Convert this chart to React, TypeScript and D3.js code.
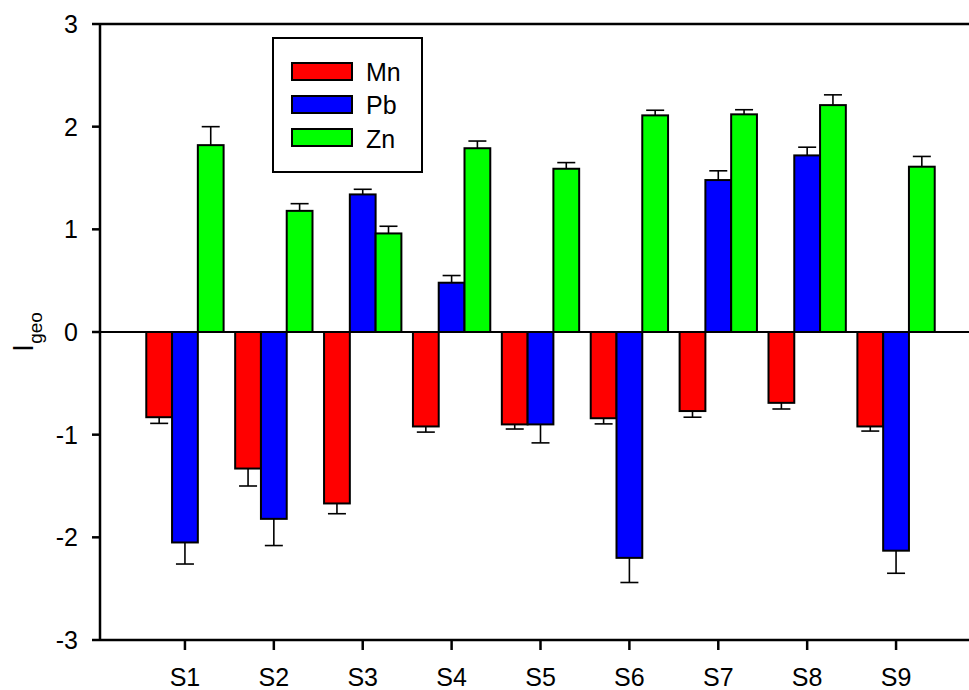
import React from "react";
import * as d3 from "d3";

const sites = ["S1", "S2", "S3", "S4", "S5", "S6", "S7", "S8", "S9"];
const metals = ["Mn", "Pb", "Zn"];
const colors = ["#ff0000", "#0000ff", "#00ff00"];

const mnValues = [-0.83, -1.33, -1.67, -0.92, -0.9, -0.84, -0.77, -0.69, -0.92];
const mnErrors = [0.06, 0.17, 0.1, 0.055, 0.045, 0.055, 0.06, 0.06, 0.045];
const pbValues = [-2.05, -1.82, 1.34, 0.48, -0.9, -2.2, 1.48, 1.72, -2.13];
const pbErrors = [0.21, 0.26, 0.05, 0.07, 0.18, 0.24, 0.09, 0.08, 0.22];
const znValues = [1.82, 1.18, 0.96, 1.79, 1.59, 2.11, 2.12, 2.21, 1.61];
const znErrors = [0.18, 0.07, 0.07, 0.07, 0.06, 0.05, 0.045, 0.1, 0.1];

const yTicks = [-3, -2, -1, 0, 1, 2, 3];

const seriesValues = [mnValues, pbValues, znValues];
const seriesErrors = [mnErrors, pbErrors, znErrors];

const W = 969;
const H = 690;
const left = 100;
const right = 969;
const top = 24;
const bottom = 640;
const font = "'Liberation Sans', Arial, sans-serif";

export default function App() {
  const y = d3.scaleLinear().domain([-3, 3]).range([bottom, top]);
  const x0 = d3
    .scaleBand<string>()
    .domain(sites)
    .range([140.5, 940.5])
    .paddingInner(0.13)
    .paddingOuter(0.065);
  const x1 = d3.scaleBand<string>().domain(metals).range([0, x0.bandwidth()]);

  const bars: JSX.Element[] = [];
  const errs: JSX.Element[] = [];
  sites.forEach((s, i) => {
    metals.forEach((m, j) => {
      const v = seriesValues[j][i];
      const e = seriesErrors[j][i];
      const bx = (x0(s) as number) + (x1(m) as number);
      const bw = x1.bandwidth();
      const y0 = y(0);
      const yv = y(v);
      const ye = y(v + (v >= 0 ? e : -e));
      const cx = bx + bw / 2;
      errs.push(
        <g key={`e${i}${j}`} stroke="#000" strokeWidth={1.6}>
          <line x1={cx} x2={cx} y1={yv} y2={ye} />
          <line x1={cx - 9} x2={cx + 9} y1={ye} y2={ye} />
        </g>
      );
      bars.push(
        <rect
          key={`b${i}${j}`}
          x={bx}
          y={Math.min(y0, yv)}
          width={bw}
          height={Math.abs(yv - y0)}
          fill={colors[j]}
          stroke="#000"
          strokeWidth={2}
        />
      );
    });
  });

  return (
    <svg
      width={W}
      height={H}
      style={{ position: "absolute", left: 0, top: 0, background: "#fff" }}
      fontFamily={font}
    >
      <rect x={0} y={0} width={W} height={H} fill="#fff" />
      {errs}
      {bars}
      {/* zero line */}
      <line x1={left} x2={right} y1={y(0)} y2={y(0)} stroke="#000" strokeWidth={2} />
      {/* frame */}
      <line x1={left} x2={right} y1={top} y2={top} stroke="#000" strokeWidth={2.5} />
      <line x1={left} x2={right} y1={bottom} y2={bottom} stroke="#000" strokeWidth={2.5} />
      <line x1={left} x2={left} y1={top - 1} y2={bottom + 1} stroke="#000" strokeWidth={2.5} />
      {/* y ticks */}
      {yTicks.map((t) => (
        <g key={`yt${t}`}>
          <line x1={left - 8} x2={left} y1={y(t)} y2={y(t)} stroke="#000" strokeWidth={2.5} />
          <text
            x={78}
            y={y(t) + 9}
            textAnchor="end"
            fontSize={25}
            fill="#000"
          >
            {t}
          </text>
        </g>
      ))}
      {/* x ticks */}
      {sites.map((s) => {
        const cx = (x0(s) as number) + x0.bandwidth() / 2;
        return (
          <g key={`xt${s}`}>
            <line x1={cx} x2={cx} y1={bottom} y2={bottom + 10} stroke="#000" strokeWidth={2.5} />
            <text x={cx} y={686} textAnchor="middle" fontSize={25} fill="#000">
              {s}
            </text>
          </g>
        );
      })}
      {/* y label */}
      <text
        transform={`translate(33, ${(top + bottom) / 2}) rotate(-90)`}
        textAnchor="middle"
        fill="#000"
      >
        <tspan fontSize={29}>I</tspan>
        <tspan fontSize={19} dy={9}>
          geo
        </tspan>
      </text>
      {/* legend */}
      <rect x={273} y={38} width={149} height={134} fill="#fff" stroke="#000" strokeWidth={2} />
      {metals.map((m, j) => (
        <g key={`lg${m}`}>
          <rect
            x={292}
            y={63 + j * 33}
            width={60}
            height={17}
            fill={colors[j]}
            stroke="#000"
            strokeWidth={2}
          />
          <text x={366} y={80.5 + j * 33.5} fontSize={25} fill="#000">
            {m}
          </text>
        </g>
      ))}
    </svg>
  );
}
